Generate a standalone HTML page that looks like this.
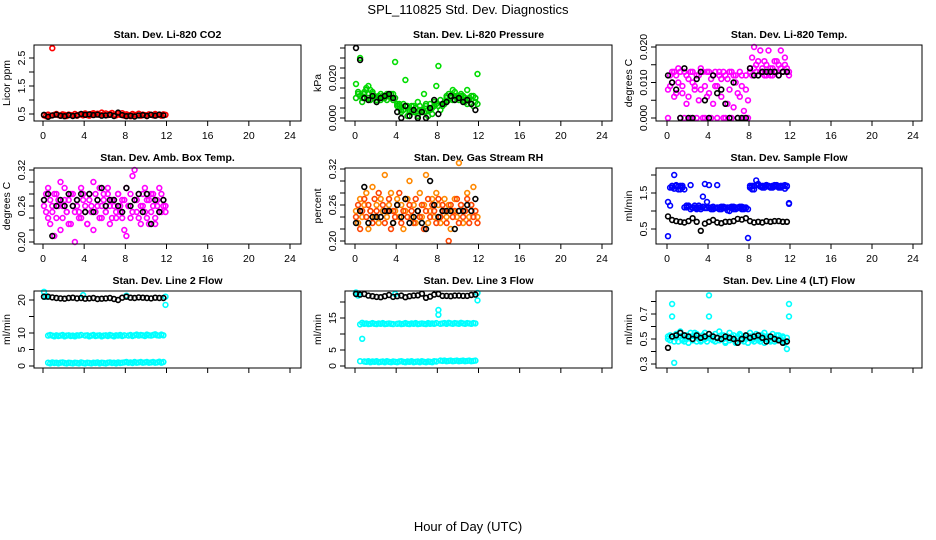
<!DOCTYPE html>
<html><head><meta charset="utf-8">
<style>
html,body{margin:0;padding:0;background:#fff;}
svg{display:block;font-family:"Liberation Sans",sans-serif;}
</style></head>
<body>
<svg id="chart" width="936" height="540" viewBox="0 0 936 540" xmlns="http://www.w3.org/2000/svg">
<rect width="936" height="540" fill="#fff"/>
<text x="468" y="14" text-anchor="middle" font-size="13">SPL_110825  Std. Dev. Diagnostics</text>
<text x="468" y="531" text-anchor="middle" font-size="13">Hour of Day (UTC)</text>
</svg>
<script>
const xTicks=[0,4,8,12,16,20,24];
const H=[0.1,0.3,0.5,0.7,0.9,1.1,1.3,1.5,1.7,1.9,2.1,2.3,2.5,2.7,2.9,3.1,3.3,3.5,3.7,3.9,4.1,4.3,4.5,4.7,4.9,5.1,5.3,5.5,5.7,5.9,6.1,6.3,6.5,6.7,6.9,7.1,7.3,7.5,7.7,7.9,8.1,8.3,8.5,8.7,8.9,9.1,9.3,9.5,9.7,9.9,10.1,10.3,10.5,10.7,10.9,11.1,11.3,11.5,11.7,11.9];
const HB=[0.1,0.5,0.9,1.3,1.7,2.1,2.5,2.9,3.3,3.7,4.1,4.5,4.9,5.3,5.7,6.1,6.5,6.9,7.3,7.7,8.1,8.5,8.9,9.3,9.7,10.1,10.5,10.9,11.3,11.7];

const co2Red=[0.45,0.42,0.48,0.44,2.85,0.47,0.50,0.46,0.44,0.49,0.47,0.43,0.48,0.46,0.45,0.50,0.44,0.47,0.49,0.45,0.52,0.46,0.44,0.50,0.53,0.48,0.51,0.47,0.55,0.49,0.52,0.46,0.50,0.54,0.48,0.45,0.51,0.47,0.53,0.44,0.49,0.46,0.42,0.50,0.47,0.45,0.51,0.44,0.48,0.46,0.43,0.49,0.47,0.45,0.50,0.46,0.48,0.44,0.49,0.47];
const co2Black=[0.47,0.40,0.45,0.48,0.44,0.42,0.46,0.43,0.45,0.50,0.47,0.49,0.46,0.48,0.44,0.45,0.47,0.43,0.55,0.46,0.42,0.44,0.41,0.45,0.46,0.43,0.47,0.44,0.48,0.45];

const presGreenA=[0.017,0.012,0.030,0.010,0.013,0.015,0.016,0.014,0.012,0.010,0.009,0.011,0.012,0.010,0.011,0.012,0.011,0.010,0.012,0.028,0.007,0.006,0.004,0.007,0.019,0.006,0.003,0.004,0.006,0.003,0.008,0.004,0.003,0.012,0.006,0.004,0.007,0.005,0.008,0.016,0.026,0.004,0.007,0.008,0.010,0.009,0.011,0.014,0.013,0.011,0.010,0.011,0.009,0.010,0.014,0.009,0.007,0.011,0.008,0.022];
const presGreenB=[0.010,0.013,0.011,0.008,0.012,0.014,0.010,0.009,0.013,0.011,0.008,0.010,0.009,0.011,0.010,0.009,0.011,0.012,0.009,0.010,0.006,0.007,0.003,0.004,0.006,0.001,0.004,0.006,0.003,0.005,0.001,0.006,0.004,0.003,0.007,0.001,0.004,0.002,0.006,0.007,0.006,0.009,0.006,0.007,0.011,0.012,0.010,0.009,0.011,0.010,0.009,0.012,0.011,0.008,0.007,0.010,0.011,0.006,0.010,0.007];
const presBlack=[0.035,0.029,0.010,0.009,0.011,0.008,0.010,0.011,0.012,0.010,0.003,0.000,0.006,0.001,0.004,0.000,0.003,0.000,0.005,0.009,0.002,0.007,0.008,0.011,0.009,0.010,0.008,0.009,0.007,0.004];

const tempPinkA=[0.008,0.012,0.010,0.013,0.007,0.014,0.000,0.009,0.013,0.004,0.006,0.013,0.010,0.008,0.012,0.005,0.014,0.000,0.009,0.013,0.007,0.011,0.004,0.013,0.009,0.012,0.006,0.013,0.000,0.011,0.008,0.013,0.003,0.012,0.007,0.013,0.009,0.002,0.012,0.005,0.013,0.017,0.020,0.015,0.012,0.019,0.013,0.016,0.012,0.019,0.014,0.012,0.016,0.013,0.015,0.019,0.013,0.017,0.014,0.013];
const tempPinkB=[0.000,0.009,0.013,0.006,0.012,0.010,0.013,0.007,0.000,0.012,0.011,0.000,0.013,0.009,0.000,0.012,0.008,0.013,0.000,0.006,0.013,0.000,0.012,0.009,0.000,0.013,0.011,0.000,0.012,0.004,0.013,0.000,0.012,0.010,0.000,0.006,0.012,0.000,0.008,0.000,0.014,0.012,0.014,0.013,0.016,0.013,0.014,0.012,0.015,0.013,0.012,0.014,0.013,0.016,0.012,0.014,0.013,0.015,0.013,0.012];
const tempBlack=[0.012,0.010,0.008,0.000,0.014,0.000,0.000,0.011,0.013,0.005,0.000,0.012,0.007,0.008,0.004,0.000,0.010,0.000,0.000,0.000,0.014,0.012,0.012,0.013,0.013,0.013,0.013,0.012,0.013,0.013];

const ambPinkA=[0.27,0.25,0.29,0.23,0.26,0.28,0.24,0.27,0.22,0.26,0.29,0.25,0.27,0.23,0.28,0.25,0.26,0.24,0.29,0.27,0.25,0.23,0.28,0.26,0.30,0.25,0.27,0.24,0.26,0.28,0.25,0.29,0.23,0.27,0.26,0.24,0.28,0.25,0.27,0.22,0.29,0.26,0.24,0.31,0.27,0.25,0.28,0.23,0.26,0.29,0.24,0.27,0.25,0.28,0.23,0.26,0.29,0.25,0.27,0.26];
const ambPinkB=[0.26,0.28,0.24,0.27,0.25,0.21,0.28,0.26,0.30,0.24,0.27,0.25,0.23,0.28,0.26,0.20,0.27,0.25,0.24,0.28,0.26,0.23,0.27,0.25,0.22,0.28,0.26,0.29,0.24,0.27,0.25,0.28,0.26,0.24,0.27,0.25,0.28,0.26,0.24,0.27,0.21,0.26,0.28,0.25,0.32,0.27,0.24,0.26,0.28,0.25,0.27,0.23,0.28,0.26,0.24,0.27,0.25,0.28,0.26,0.25];
const ambBlack=[0.27,0.28,0.21,0.26,0.27,0.26,0.28,0.26,0.27,0.28,0.25,0.28,0.25,0.27,0.29,0.26,0.27,0.27,0.26,0.25,0.29,0.26,0.27,0.28,0.25,0.28,0.23,0.27,0.25,0.27];

const rhOrangeA=[0.25,0.23,0.27,0.24,0.26,0.28,0.22,0.25,0.29,0.24,0.26,0.23,0.27,0.25,0.31,0.24,0.26,0.28,0.23,0.25,0.27,0.24,0.26,0.22,0.25,0.27,0.30,0.24,0.26,0.23,0.25,0.28,0.24,0.26,0.31,0.23,0.25,0.27,0.24,0.28,0.26,0.23,0.25,0.27,0.24,0.26,0.22,0.25,0.27,0.24,0.33,0.26,0.23,0.25,0.28,0.24,0.26,0.29,0.25,0.24];
const rhOrangeB=[0.24,0.26,0.22,0.25,0.27,0.24,0.26,0.25,0.23,0.27,0.25,0.28,0.24,0.26,0.23,0.25,0.27,0.22,0.25,0.24,0.26,0.28,0.23,0.25,0.27,0.24,0.26,0.25,0.23,0.27,0.25,0.24,0.26,0.22,0.25,0.27,0.24,0.26,0.25,0.23,0.27,0.24,0.26,0.25,0.23,0.20,0.26,0.24,0.25,0.27,0.23,0.26,0.24,0.25,0.27,0.23,0.26,0.24,0.25,0.23];
const rhBlack=[0.23,0.25,0.29,0.23,0.24,0.24,0.24,0.25,0.25,0.23,0.26,0.24,0.27,0.23,0.24,0.25,0.23,0.22,0.30,0.26,0.24,0.25,0.25,0.25,0.22,0.25,0.25,0.26,0.25,0.27];

const flowBlueA=[0.30,1.15,1.65,2.00,1.70,1.60,1.70,1.65,1.60,1.10,1.15,1.05,1.10,1.15,1.08,1.10,1.05,1.12,1.08,1.25,1.10,1.05,1.12,1.08,1.10,1.05,1.12,1.08,1.10,1.02,1.10,1.08,1.12,1.05,1.10,1.08,1.12,1.05,1.10,0.25,1.65,1.70,1.60,1.72,1.75,1.68,1.65,1.70,1.72,1.68,1.65,1.70,1.68,1.72,1.65,1.70,1.68,1.72,1.70,1.20];
const flowBlueB=[1.25,1.65,1.70,1.62,1.72,1.68,1.60,1.70,1.10,1.15,1.12,1.72,1.08,1.10,1.05,1.15,1.10,1.40,1.75,1.08,1.72,1.10,1.05,1.08,1.72,1.10,1.05,1.12,1.08,1.10,1.00,1.12,1.05,1.10,1.08,1.12,1.05,1.10,1.08,1.05,1.70,1.60,1.70,1.85,1.72,1.68,1.70,1.65,1.72,1.70,1.68,1.65,1.72,1.70,1.68,1.65,1.70,1.62,1.68,1.22];
const flowBlack=[0.85,0.75,0.72,0.70,0.68,0.72,0.80,0.70,0.45,0.65,0.70,0.75,0.68,0.66,0.70,0.70,0.72,0.78,0.76,0.80,0.72,0.68,0.70,0.68,0.72,0.70,0.72,0.72,0.70,0.70];

const line2CyanA=[22.5,21.0,9.2,9.4,9.2,9.0,9.3,9.1,9.2,9.4,9.0,9.2,9.3,9.1,9.2,9.0,9.3,9.2,9.4,21.5,9.2,9.3,9.0,9.2,9.4,9.1,9.2,9.3,9.0,9.2,9.3,9.1,9.4,9.2,9.0,9.3,9.2,9.4,9.1,9.3,21.3,9.2,9.4,9.1,9.3,9.5,9.2,9.4,9.3,9.1,9.5,9.3,9.2,9.4,9.6,9.3,9.2,9.5,9.3,21.0];
const line2CyanB=[21.0,21.2,1.0,0.8,1.1,0.9,1.0,0.8,1.0,1.1,0.9,0.8,1.0,0.9,0.8,1.0,0.9,0.8,1.1,0.9,0.8,1.0,0.9,0.8,1.0,0.9,1.1,0.8,1.0,0.9,0.8,1.0,1.1,0.9,1.0,0.8,1.1,0.9,1.0,1.1,1.2,1.0,1.1,0.9,1.2,1.0,1.1,1.2,1.0,1.1,1.2,1.0,1.1,1.2,1.0,1.1,1.3,1.0,1.2,18.5];
const line2Black=[21.0,21.0,20.8,20.6,20.5,20.4,20.6,20.7,20.5,20.6,20.4,20.5,20.6,20.3,20.4,20.5,20.6,20.3,20.0,20.7,21.0,20.7,20.6,20.8,20.7,20.6,20.5,20.7,20.6,20.6];

const line3CyanA=[23.0,22.5,13.0,13.5,13.2,13.3,13.1,13.2,13.4,13.2,13.1,13.3,13.2,13.4,13.1,13.2,13.3,13.2,13.1,22.5,13.2,13.3,13.1,13.2,13.4,13.2,13.1,13.3,13.2,13.4,13.1,13.2,13.3,13.2,13.1,13.4,13.2,13.3,13.2,13.4,17.5,13.2,13.3,13.4,13.2,13.5,13.3,13.2,13.4,13.3,13.2,13.5,13.3,13.2,13.4,13.3,13.2,13.4,13.3,22.8];
const line3CyanB=[22.8,22.0,1.5,8.5,1.4,1.3,1.5,1.2,1.4,1.3,1.5,1.2,1.3,1.4,1.2,1.5,1.3,1.2,1.4,1.3,1.2,1.4,1.5,1.3,1.2,1.4,1.3,1.5,1.2,1.3,1.4,1.2,1.5,1.3,1.2,1.4,1.3,1.2,1.5,1.4,16.0,1.7,1.6,1.7,1.5,1.6,1.7,1.5,1.6,1.7,1.5,1.6,1.7,1.5,1.6,1.7,1.5,1.6,1.7,20.5];
const line3Black=[22.5,22.3,22.5,22.0,21.8,21.6,21.5,21.8,22.2,21.6,21.8,22.0,21.5,21.8,22.0,22.1,22.6,21.3,21.7,22.3,22.5,21.9,21.9,21.8,22.0,22.0,21.9,21.9,22.2,22.3];

const line4CyanA=[0.50,0.53,0.78,0.48,0.54,0.52,0.56,0.50,0.48,0.53,0.51,0.55,0.49,0.52,0.54,0.50,0.48,0.53,0.55,0.51,0.85,0.52,0.49,0.54,0.51,0.56,0.50,0.53,0.48,0.52,0.55,0.50,0.53,0.47,0.52,0.54,0.50,0.48,0.53,0.51,0.55,0.49,0.52,0.54,0.50,0.48,0.53,0.55,0.50,0.52,0.48,0.54,0.51,0.49,0.53,0.50,0.52,0.48,0.51,0.78];
const line4CyanB=[0.52,0.49,0.68,0.31,0.51,0.48,0.52,0.49,0.53,0.50,0.47,0.52,0.50,0.55,0.48,0.51,0.49,0.53,0.50,0.48,0.68,0.50,0.52,0.48,0.51,0.49,0.53,0.50,0.47,0.51,0.49,0.52,0.50,0.48,0.51,0.53,0.49,0.52,0.50,0.47,0.52,0.50,0.48,0.51,0.49,0.53,0.50,0.47,0.52,0.50,0.49,0.51,0.48,0.53,0.50,0.49,0.51,0.47,0.42,0.68];
const line4Black=[0.43,0.52,0.53,0.55,0.53,0.52,0.50,0.53,0.51,0.52,0.54,0.52,0.51,0.50,0.52,0.51,0.50,0.47,0.50,0.53,0.51,0.52,0.53,0.51,0.48,0.52,0.50,0.49,0.47,0.48];

const NS="http://www.w3.org/2000/svg";
const svg=document.getElementById('chart');
function mk(tag,attrs,parent){const e=document.createElementNS(NS,tag);for(const k in attrs)e.setAttribute(k,attrs[k]);(parent||svg).appendChild(e);return e;}

const cols=[{l:34,r:301,x0:43,x24:290},{l:345,r:612,x0:355,x24:602},{l:656,r:922,x0:667,x24:913}];
const rows=[{t:45,b:121},{t:168,b:244},{t:291,b:368}];

const panels=[
 {name:'co2',c:0,r:0,title:'Stan. Dev. Li-820 CO2',ylab:'Licor ppm',v1:0.5,p1:114,v2:2.5,p2:58,ticks:[0.5,1,1.5,2,2.5],labels:['0.5','1.5','2.5'],xl:true,
  series:[[H,co2Red,'#ff0000'],[HB,co2Black,'#000']]},
 {name:'pressure',c:1,r:0,title:'Stan. Dev. Li-820 Pressure',ylab:'kPa',v1:0,p1:118,v2:0.02,p2:78,ticks:[0,0.005,0.01,0.015,0.02,0.025,0.03,0.035],labels:['0.000','0.020'],xl:true,
  series:[[H,presGreenA,'#00dd00'],[H,presGreenB,'#00cc00'],[HB,presBlack,'#000']]},
 {name:'temp',c:2,r:0,title:'Stan. Dev. Li-820 Temp.',ylab:'degrees C',v1:0,p1:118,v2:0.02,p2:47,ticks:[0,0.005,0.01,0.015,0.02],labels:['0.000','0.010','0.020'],xl:true,
  series:[[H,tempPinkA,'#ff00ff'],[H,tempPinkB,'#ff00ff'],[HB,tempBlack,'#000']]},
 {name:'amb-box-temp',c:0,r:1,title:'Stan. Dev. Amb. Box Temp.',ylab:'degrees C',v1:0.2,p1:242,v2:0.32,p2:170,ticks:[0.2,0.22,0.24,0.26,0.28,0.3,0.32],labels:['0.20','0.26','0.32'],xl:true,
  series:[[H,ambPinkA,'#ff00ff'],[H,ambPinkB,'#ff00ff'],[HB,ambBlack,'#000']]},
 {name:'gas-rh',c:1,r:1,title:'Stan. Dev. Gas Stream RH',ylab:'percent',v1:0.2,p1:241,v2:0.32,p2:169,ticks:[0.2,0.22,0.24,0.26,0.28,0.3,0.32],labels:['0.20','0.26','0.32'],xl:true,
  series:[[H,rhOrangeA,'#ff8800'],[H,rhOrangeB,'#ff4400'],[HB,rhBlack,'#000']]},
 {name:'sample-flow',c:2,r:1,title:'Stan. Dev. Sample Flow',ylab:'ml/min',v1:0.5,p1:229,v2:1.5,p2:193,ticks:[0.5,1,1.5,2],labels:['0.5','1.5'],xl:true,
  series:[[H,flowBlueA,'#0000ff'],[H,flowBlueB,'#0000ff'],[HB,flowBlack,'#000']]},
 {name:'line2-flow',c:0,r:2,title:'Stan. Dev. Line 2 Flow',ylab:'ml/min',v1:0,p1:366,v2:20,p2:300,ticks:[0,5,10,15,20],labels:['0','5','10','20'],xl:false,
  series:[[H,line2CyanA,'#00ffff'],[H,line2CyanB,'#00ffff'],[HB,line2Black,'#000']]},
 {name:'line3-flow',c:1,r:2,title:'Stan. Dev. Line 3 Flow',ylab:'ml/min',v1:0,p1:366,v2:15,p2:318,ticks:[0,5,10,15,20],labels:['0','5','15'],xl:false,
  series:[[H,line3CyanA,'#00ffff'],[H,line3CyanB,'#00ffff'],[HB,line3Black,'#000']]},
 {name:'line4-flow',c:2,r:2,title:'Stan. Dev. Line 4 (LT) Flow',ylab:'ml/min',v1:0.3,p1:364,v2:0.7,p2:314,ticks:[0.3,0.4,0.5,0.6,0.7,0.8],labels:['0.3','0.5','0.7'],xl:false,
  series:[[H,line4CyanA,'#00ffff'],[H,line4CyanB,'#00ffff'],[HB,line4Black,'#000']]}
];

panels.forEach(p=>{
  const C=cols[p.c],R=rows[p.r];
  const xs=v=>C.x0+(C.x24-C.x0)*v/24;
  const ys=v=>p.p1+(p.p2-p.p1)*(v-p.v1)/(p.v2-p.v1);
  const g=mk('g',{});
  
  
  const t=mk('text',{x:(C.l+C.r)/2,y:R.t-7,'text-anchor':'middle','font-size':'10.5','font-weight':'bold'},g);
  t.textContent=p.title;
  
  
  const pg=mk('g',{},g);
  
  
  p.series.forEach(s=>{
    const [xa,ya,col]=s;
    for(let i=0;i<ya.length;i++){
      const c=mk('circle',{cx:xs(xa[i]).toFixed(1),cy:ys(ya[i]).toFixed(1),r:2.4,fill:'none',stroke:col,'stroke-width':1.6},pg);
      
      
    }
  });
  const box=mk('rect',{x:C.l,y:R.t,width:C.r-C.l,height:R.b-R.t,fill:'none',stroke:'#000','stroke-width':1},g);
  
  
  const xa=mk('g',{},g);
  
  
  mk('line',{x1:xs(0),x2:xs(24),y1:R.b,y2:R.b,stroke:'#000'},xa);
  xTicks.forEach(v=>{
    mk('line',{x1:xs(v),x2:xs(v),y1:R.b,y2:R.b+5,stroke:'#000'},xa);
    if(p.xl){const tx=mk('text',{x:xs(v),y:R.b+18,'text-anchor':'middle','font-size':'10.5'},xa);tx.textContent=v;}
  });
  const ya=mk('g',{},g);
  
  
  mk('line',{x1:C.l,x2:C.l,y1:ys(p.ticks[0]),y2:ys(p.ticks[p.ticks.length-1]),stroke:'#000'},ya);
  p.ticks.forEach(v=>{mk('line',{x1:C.l-5,x2:C.l,y1:ys(v),y2:ys(v),stroke:'#000'},ya);});
  p.labels.forEach(l=>{
    const y=ys(parseFloat(l));
    const tx=mk('text',{x:C.l-9,y:y,'text-anchor':'middle','font-size':'10.5',transform:`rotate(-90 ${C.l-9} ${y})`},ya);
    tx.textContent=l;
  });
  const yl=mk('text',{x:C.l-24,y:(R.t+R.b)/2,'text-anchor':'middle','font-size':'10.5',transform:`rotate(-90 ${C.l-24} ${(R.t+R.b)/2})`},g);
  yl.textContent=p.ylab;
  
  
});
</script>
</body></html>
